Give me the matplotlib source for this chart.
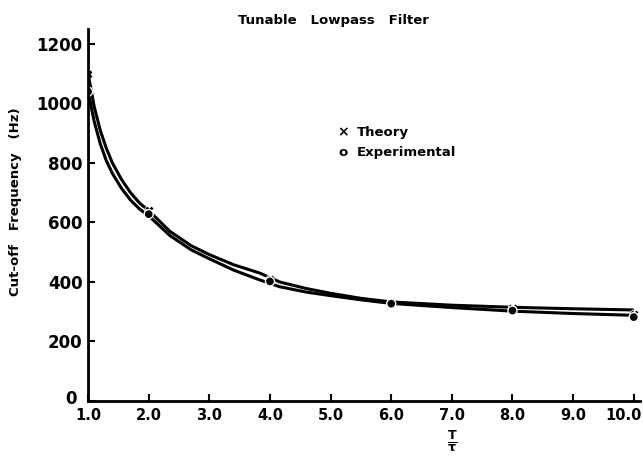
import matplotlib

matplotlib.use("Agg")
import matplotlib.pyplot as plt
import matplotlib.patheffects as pe
import matplotlib.transforms as mtransforms

# measured points (T / tau, cut-off frequency in Hz)
point_t = [1.0, 2.0, 4.0, 6.0, 8.0, 10.0]
theory_hz = [1100, 640, 410, 330, 312, 292]
experimental_hz = [1040, 628, 402, 327, 304, 282]

# hand-drawn curves
curve_t = [1.0, 1.1, 1.2, 1.3, 1.4, 1.55, 1.7, 1.85, 2.0, 2.35, 2.7, 3.0,
           3.4, 3.83, 4.16, 4.6, 5.0, 5.5, 6.0, 7.0, 8.0, 9.0, 10.0]
upper_hz = [1100, 990, 910, 850, 800, 745, 700, 665, 640, 570, 522, 492,
            458, 430, 400, 378, 362, 345, 333, 322, 315, 310, 306]
lower_hz = [1040, 940, 865, 808, 765, 715, 675, 645, 622, 556, 508, 478,
            440, 407, 384, 366, 354, 340, 328, 314, 302, 294, 288]

x_ticks = [1, 2, 3, 4, 5, 6, 7, 8, 9, 10]
x_tick_labels = ["1.0", "2.0", "3.0", "4.0", "5.0", "6.0", "7.0", "8.0", "9.0", "10.0"]
y_ticks = [0, 200, 400, 600, 800, 1000, 1200]

fig = plt.figure(figsize=(6.43, 4.57), dpi=100)
ax = fig.add_axes([0.137, 0.1225, 0.858, 0.814])

ax.plot(curve_t, upper_hz, color="black", lw=2.2, solid_capstyle="butt")
ax.plot(curve_t, lower_hz, color="black", lw=2.2, solid_capstyle="butt")

halo = [pe.withStroke(linewidth=3, foreground="white")]
ax.plot(point_t, theory_hz, linestyle="none", marker="x", ms=4.5, mew=2,
        color="black", path_effects=halo)
ax.plot(point_t, experimental_hz, linestyle="none", marker="o", ms=4.5,
        mfc="black", mec="black", path_effects=halo)

ax.set_xlim(1.0, 10.1)
ax.set_ylim(0, 1250)
ax.set_xticks(x_ticks)
ax.set_xticklabels(x_tick_labels)
ax.set_yticks(y_ticks)
ax.tick_params(direction="in", length=5, width=1.5, pad=4)
ax.tick_params(axis="y", labelsize=12)
ax.tick_params(axis="x", labelsize=10.5, pad=5)
for label in ax.get_xticklabels() + ax.get_yticklabels():
    label.set_fontweight("bold")


def nudge(label, dx, dy):
    label.set_transform(label.get_transform()
                        + mtransforms.ScaledTranslation(dx, dy, fig.dpi_scale_trans))


# the last x label sits a little to the left of its tick, inside the frame
last = ax.get_xticklabels()[-1]
last.set_horizontalalignment("right")
nudge(last, 0.08, 0)
# the zero on the y axis sits up and left of the corner
nudge(ax.get_yticklabels()[0], -0.06, 0.04)

for side in ("top", "right"):
    ax.spines[side].set_visible(False)
for side in ("left", "bottom"):
    ax.spines[side].set_linewidth(2)

fig.text(0.518, 0.956, "Tunable   Lowpass   Filter", ha="center", va="center",
         fontsize=9.5, fontweight="bold")
fig.text(0.024, 0.558, "Cut-off   Frequency   (Hz)", ha="center", va="center",
         rotation=90, fontsize=9.5, fontweight="bold")
fig.text(0.703, 0.034, r"$\mathbf{\frac{T}{\tau}}$", ha="center", va="center",
         fontsize=13)

# legend written as plain text like the original
ax.text(0.462, 0.723, "\u00d7", transform=ax.transAxes, ha="center", va="center",
        fontsize=10, fontweight="bold")
ax.text(0.462, 0.669, "o", transform=ax.transAxes, ha="center", va="center",
        fontsize=9.5, fontweight="bold")
ax.text(0.487, 0.723, "Theory", transform=ax.transAxes, va="center",
        fontsize=9.5, fontweight="bold")
ax.text(0.487, 0.669, "Experimental", transform=ax.transAxes, va="center",
        fontsize=9.5, fontweight="bold")

fig.savefig("out.png", dpi=100)
